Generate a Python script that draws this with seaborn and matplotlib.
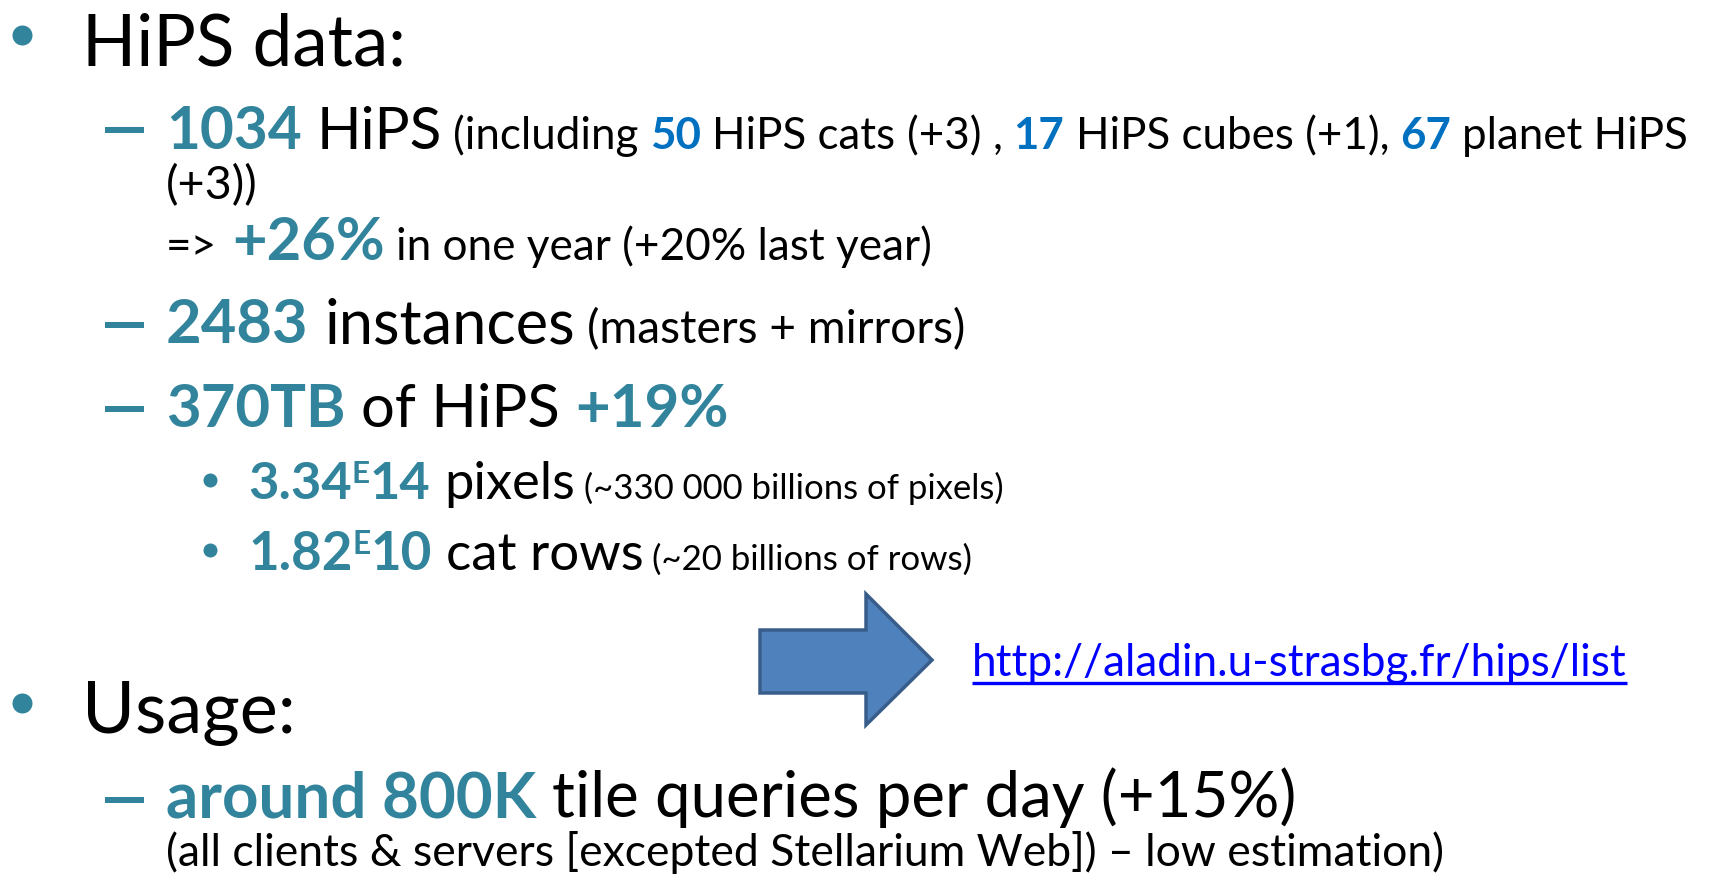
import matplotlib
matplotlib.use("Agg")
import matplotlib.pyplot as plt
import seaborn as sns
from matplotlib.patches import Polygon

# ---------------- data ----------------
hips_total = 1034
hips_cats, hips_cats_new = 50, 3
hips_cubes, hips_cubes_new = 17, 1
planet_hips, planet_hips_new = 67, 3
growth_this_year, growth_last_year = 26, 20
instances = 2483
volume_tb, volume_growth = 370, 19
pixels_mant, pixels_exp = "3.34", "14"
rows_mant, rows_exp = "1.82", "10"
tile_queries_k, queries_growth = 800, 15
hips_url = "http://aladin.u-strasbg.fr/hips/list"

TEAL = "#31849B"
BLUE = "#0070C0"
BLACK = "#000000"
LINK = "#0000FF"

sns.set_theme(style="white")
plt.rcParams["font.family"] = ["Lato", "DejaVu Sans"]

W, H = 1709, 875
fig = plt.figure(figsize=(W / 100, H / 100), dpi=100)
fig.patch.set_facecolor("white")
ax = fig.add_axes([0, 0, 1, 1])
ax.set_xlim(0, W)
ax.set_ylim(H, 0)
ax.axis("off")
renderer = fig.canvas.get_renderer()
PT = 72 / 100.0  # points per pixel


def S(text, color=BLACK, bold=False, rel=1.0, space=True, sup=False):
    return dict(text=text, color=color, bold=bold, rel=rel, space=space, sup=sup)


def measure(s, size_px, bold):
    t = ax.text(0, 0, s, fontsize=size_px * PT, fontweight="bold" if bold else "normal")
    w = t.get_window_extent(renderer).width
    t.remove()
    return w


def layout(segs, base):
    items = []
    x = 0.0
    main = base
    for i, sg in enumerate(segs):
        size = base * sg["rel"]
        if sg["sup"]:
            size = main * 0.6
        if sg["space"] and i > 0:
            x += measure("x x", size, False) - measure("xx", size, False)
        w = measure(sg["text"], size, sg["bold"])
        raise_ = main * 0.30 if sg["sup"] else 0.0
        items.append((x, size, raise_, sg))
        if not sg["sup"]:
            main = size
        x += w
    return items, x


def draw_line(x0, y, segs, x1=None, base=None):
    if base is None:
        b0 = 60.0
        _, w0 = layout(segs, b0)
        base = b0 * (x1 - x0) / w0
    items, w = layout(segs, base)
    for dx, size, r, sg in items:
        ax.text(x0 + dx, y - r, sg["text"], color=sg["color"],
                fontsize=size * PT, fontweight="bold" if sg["bold"] else "normal",
                va="baseline", ha="left")
    return base, w


def bullet(xc, yc, diam_px):
    ax.plot([xc], [yc], "o", ms=diam_px * PT, color=TEAL, mec="none")


def dash(xc, yc, length_px=39, thick_px=6):
    ax.plot([xc - length_px / 2, xc + length_px / 2], [yc, yc], color=TEAL,
            lw=thick_px * PT, solid_capstyle="butt")


# ---------------- HiPS data ----------------
bullet(22, 35, 20)
draw_line(82, 65, [S("HiPS data:")], 406)

SM = 0.75
dash(124, 130)
b2, _ = draw_line(166, 149, [
    S(str(hips_total), TEAL, True, space=False), S("HiPS"),
    S("(including", rel=SM), S(str(hips_cats), BLUE, True, SM), S("HiPS cats", rel=SM),
    S(f"(+{hips_cats_new})", rel=SM), S(",", rel=SM),
    S(str(hips_cubes), BLUE, True, SM), S(f"HiPS cubes (+{hips_cubes_new}),", rel=SM),
    S(str(planet_hips), BLUE, True, SM), S("planet HiPS", rel=SM),
], 1687)
draw_line(166, 199, [S(f"(+{planet_hips_new}))", rel=0.8, space=False)], base=b2)
draw_line(166, 260, [
    S("=>", rel=0.8, space=False), S(f"+{growth_this_year}%", TEAL, True, 1.08),
    S(f"in one year (+{growth_last_year}% last year)", rel=0.8),
], 932)

dash(124, 325)
draw_line(166, 343, [
    S(str(instances), TEAL, True, space=False), S("instances"),
    S("(masters + mirrors)", rel=SM),
], 965)

dash(124, 409)
draw_line(166, 427, [
    S(f"{volume_tb}TB", TEAL, True, space=False), S("of HiPS"),
    S(f"+{volume_growth}%", TEAL, True),
], 728)

bullet(210, 480, 14)
draw_line(248, 499, [
    S(pixels_mant, TEAL, True, space=False), S("E", TEAL, True, space=False, sup=True),
    S(pixels_exp, TEAL, True, space=False), S("pixels"),
    S("(~330 000 billions of pixels)", rel=0.66),
], 1003)

bullet(210, 550, 14)
draw_line(248, 570, [
    S(rows_mant, TEAL, True, space=False), S("E", TEAL, True, space=False, sup=True),
    S(rows_exp, TEAL, True, space=False), S("cat rows"),
    S("(~20 billions of rows)", rel=0.66),
], 973)

# ---------------- arrow + link ----------------
arrow = Polygon([(760, 630), (866, 630), (866, 594), (932, 660),
                 (866, 725), (866, 693), (760, 693)],
                closed=True, facecolor="#4F81BD", edgecolor="#385D8A", lw=2.5)
ax.add_patch(arrow)
_, wurl = draw_line(972, 676, [S(hips_url, LINK, space=False)], 1626)
ax.plot([972, 972 + wurl], [683, 683], color=LINK, lw=2.4, solid_capstyle="butt")

# ---------------- Usage ----------------
bullet(22, 703, 20)
draw_line(82, 733, [S("Usage:")], 296)

dash(124, 800)
draw_line(166, 817, [
    S(f"around {tile_queries_k}K", TEAL, True, space=False),
    S(f"tile queries per day (+{queries_growth}%)"),
], 1297)
draw_line(166, 866, [
    S("(all clients & servers [excepted Stellarium Web]) – low estimation)", space=False),
], 1444)

fig.savefig("out.png", dpi=100, facecolor="white")
